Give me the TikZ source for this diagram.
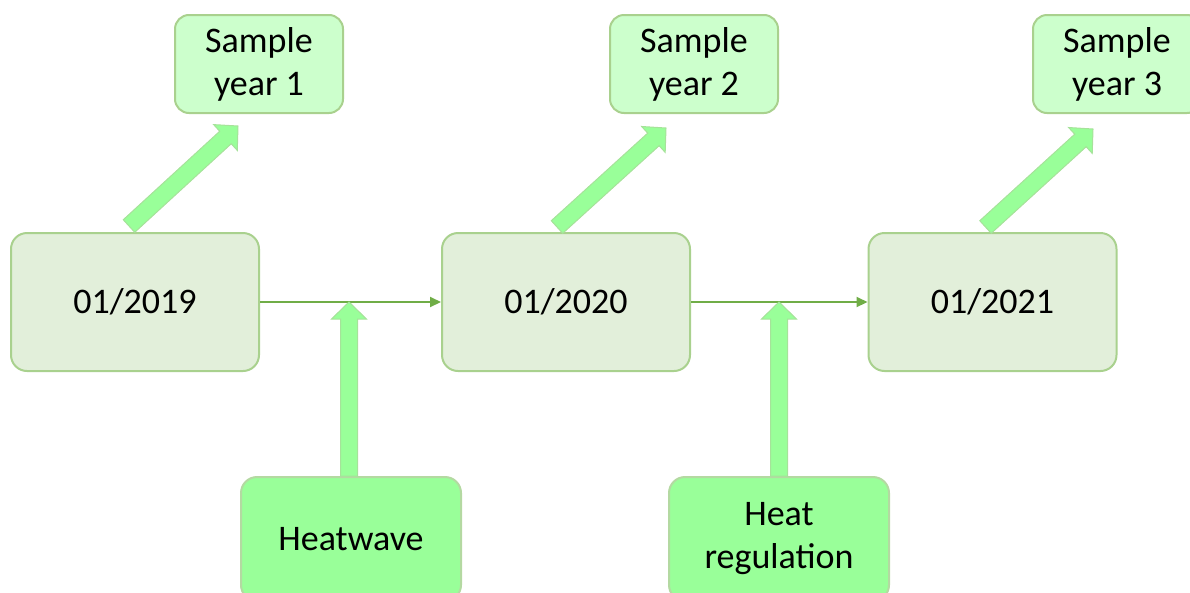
\documentclass[tikz,border=0pt]{standalone}
\usepackage{fontspec}
\setmainfont{Carlito}
\usetikzlibrary{calc,arrows.meta}
\definecolor{datefill}{HTML}{E2EFDA}
\definecolor{dateedge}{HTML}{A9D18E}
\definecolor{samplefill}{HTML}{CCFFCC}
\definecolor{eventfill}{HTML}{99FF99}
\definecolor{eventedge}{HTML}{B4D9A2}
\definecolor{linkcol}{HTML}{70AD47}
\definecolor{bigedge}{HTML}{A6E29A}
\newcommand\blockarrow[2]{%
  \coordinate (ba-h) at ($(#2)!17pt!(#1)$);
  \draw[bigarrow] ($(#1)!8.5pt!90:(#2)$) -- ($(ba-h)!8.5pt!90:(#2)$) -- ($(ba-h)!17.5pt!90:(#2)$) -- (#2) -- ($(ba-h)!17.5pt!-90:(#2)$) -- ($(ba-h)!8.5pt!-90:(#2)$) -- ($(#1)!8.5pt!-90:(#2)$) -- cycle;}
\begin{document}
\begin{tikzpicture}[x=1pt,y=-1pt,
  every node/.style={font=\fontsize{36}{43}\selectfont, align=center, inner sep=0pt, text=black},
  datebox/.style={draw=dateedge, fill=datefill, line width=2pt, rounded corners=16pt, minimum width=248pt, minimum height=138pt},
  samplebox/.style={draw=dateedge, fill=samplefill, line width=2pt, rounded corners=14pt, minimum width=168pt, minimum height=98pt},
  eventbox/.style={draw=eventedge, fill=eventfill, line width=2pt, rounded corners=16pt, minimum width=220pt, minimum height=124pt},
  link/.style={draw=linkcol, line width=2pt, -{Triangle[length=11pt,width=10pt]}},
  bigarrow/.style={fill=eventfill, draw=bigedge, line width=1pt, line join=miter}]
\useasboundingbox (0,0) rectangle (1190,592);
\clip (0,0) rectangle (1190,592);

\node[datebox] (d1) at (135,302) {01/2019};
\node[datebox] (d2) at (566,302) {01/2020};
\node[datebox] (d3) at (992.5,302) {01/2021};

\node[samplebox] (s1) at (259,64) {Sample\\year 1};
\node[samplebox] (s2) at (694,64) {Sample\\year 2};
\node[samplebox] (s3) at (1117,64) {Sample\\year 3};

\node[eventbox] (e1) at (351,539) {Heatwave};
\node[eventbox] (e2) at (779,539) {Heat\\regulation};

\draw[link] (d1.east) -- (d2.west);
\draw[link] (d2.east) -- (d3.west);

\coordinate (v1) at ($(d1.north)+(-6,-6)$);
\coordinate (t1) at ($(s1.south)+(-21,12)$);
\coordinate (v2) at ($(d2.north)+(-9,-5)$);
\coordinate (t2) at ($(s2.south)+(-28,14)$);
\coordinate (v3) at ($(d3.north)+(-7,-5)$);
\coordinate (t3) at ($(s3.south)+(-24,15)$);
\blockarrow{v1}{t1}
\blockarrow{v2}{t2}
\blockarrow{v3}{t3}

\coordinate (u1) at ($(e1.north)+(-2,0)$);
\coordinate (p1) at (u1 |- d1.east);
\coordinate (u2) at (e2.north);
\coordinate (p2) at (u2 |- d2.east);
\blockarrow{u1}{p1}
\blockarrow{u2}{p2}
\end{tikzpicture}
\end{document}
